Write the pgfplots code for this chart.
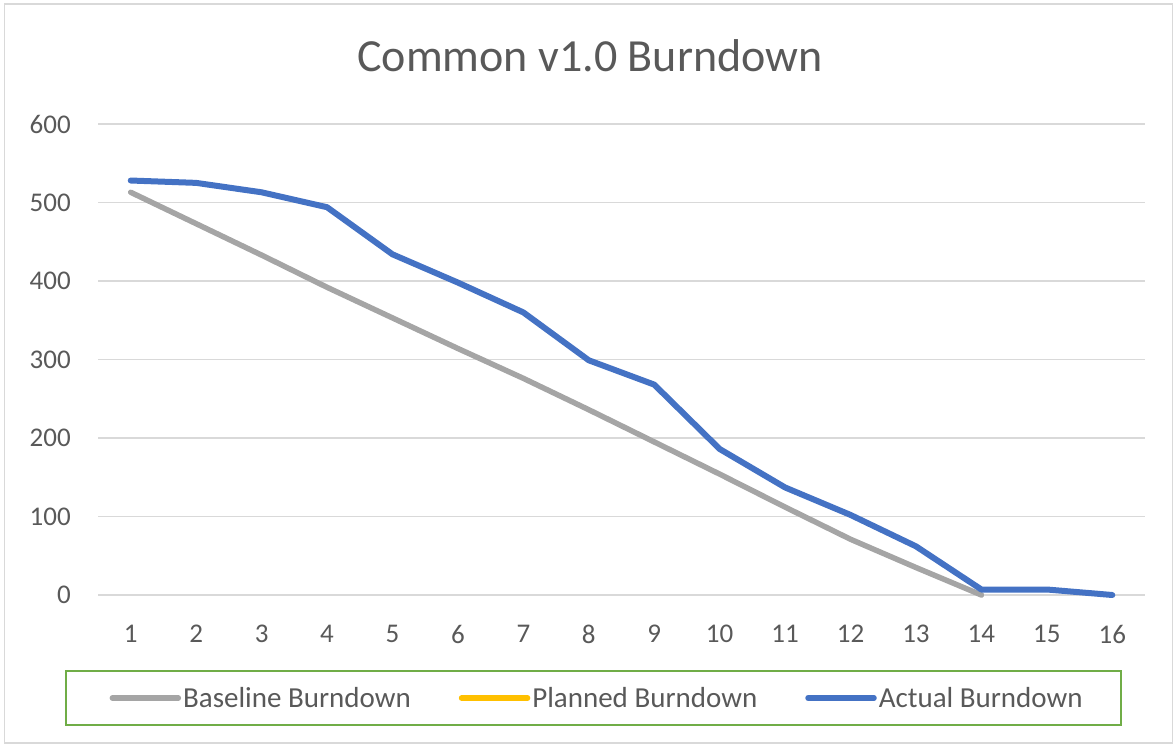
\documentclass[border=0pt]{standalone}
\usepackage{fontspec}
\setmainfont{Carlito}
\usepackage{pgfplots}
\pgfplotsset{compat=1.18}
\definecolor{txt}{HTML}{595959}
\definecolor{gridc}{HTML}{D9D9D9}
\definecolor{base}{HTML}{A5A5A5}
\definecolor{plan}{HTML}{FFC000}
\definecolor{act}{HTML}{4472C4}
\definecolor{leg}{HTML}{70AD47}
\begin{document}
\begin{tikzpicture}[x=1pt,y=1pt]
\path (0,0) rectangle (1174,744);
\draw[gridc, line width=1.5pt] (4.5,1) rectangle (1172.5,740);
\node[anchor=base, text=txt, font=\fontsize{46}{55}\selectfont, inner sep=0pt] at (590,672) {Common v1.0 Burndown};
\draw[leg, line width=2pt] (66,19) rectangle (1121,73);
\begin{axis}[at={(98pt,149pt)}, anchor=south west, width=1047pt, height=471pt, scale only axis,
 xmin=0.5, xmax=16.5, ymin=0, ymax=600, xtick={1,...,16}, ytick={0,100,...,600},
 ymajorgrids, grid style={gridc, line width=1.5pt},
 axis line style={draw=none}, major tick length=0,
 tick label style={text=txt, font=\fontsize{27}{32}\selectfont, inner sep=0pt},
 /pgf/number format/assume math mode=true,
 yticklabel style={anchor=east, xshift=-27pt},
 xticklabel style={anchor=north, yshift=-30pt},
 clip=false,
 legend columns=3,
 legend style={at={(0.4767,-0.2187)}, anchor=center, draw=none, fill=none,
   font=\fontsize{29}{34}\selectfont, text=txt,
   nodes={inner sep=2pt},
   /tikz/every even column/.append style={column sep=46pt}},
 legend image code/.code={\draw[#1, line width=5.5pt, line cap=round] (0pt,0pt) -- (66pt,0pt);},
]
\addplot[base, line width=5.5pt, line cap=round, line join=round] coordinates {
(1,513) (2,473) (3,433) (4,392) (5,353) (6,314) (7,276) (8,236) (9,195) (10,154) (11,112) (12,71) (13,35) (14,0)};
\addlegendentry{Baseline Burndown}
\addlegendimage{plan, line width=5.5pt}
\addlegendentry{Planned Burndown}
\addplot[act, line width=6pt, line cap=round, line join=round] coordinates {
(1,528) (2,525) (3,513) (4,494) (5,434) (6,398) (7,360) (8,299) (9,268) (10,186) (11,137) (12,102) (13,62) (14,7) (15,7) (16,0)};
\addlegendentry{Actual Burndown}
\end{axis}
\end{tikzpicture}
\end{document}
